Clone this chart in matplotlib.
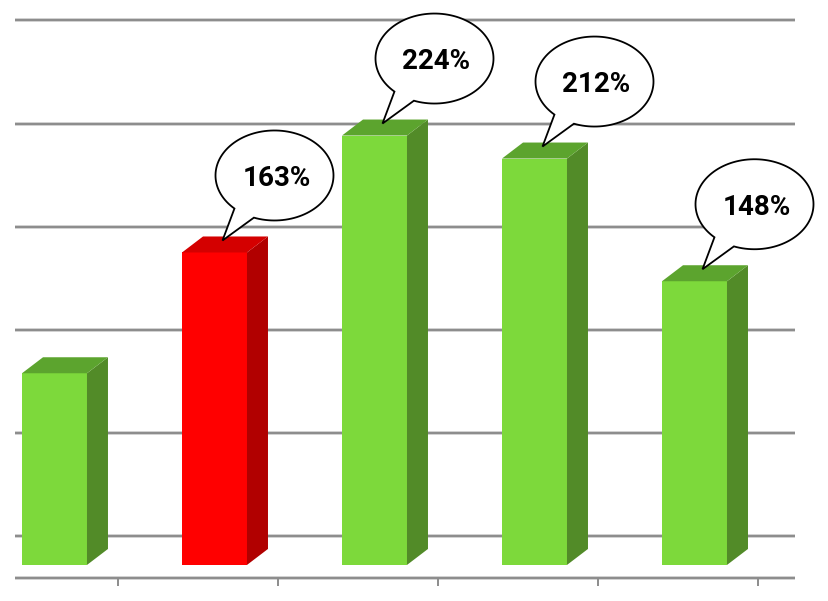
import numpy as np
import matplotlib
matplotlib.use("Agg")
import matplotlib.pyplot as plt
import matplotlib.transforms as mtransforms
from matplotlib.patches import Polygon

# data
values = [100, 163, 224, 212, 148]
labels = ["", "163%", "224%", "212%", "148%"]
highlight = [False, True, False, False, False]
grid_levels = [15.1, 68.9, 122.6, 176.3, 230.0, 284.3]

green = ("#7dd93b", "#528b28", "#5ca42e")   # front, side, top
red = ("#ff0000", "#b10000", "#d40000")

fig = plt.figure(figsize=(8.29, 6.01), dpi=100)
ax = fig.add_axes([0, 0, 1, 1])
ax.set_xlim(-0.3406, 4.8406)
ax.set_ylim(-18.8, 294.7)
ax.axis("off")

width = 0.406
dx = 21 / 160      # 3d depth, x
dy = 16 / 1.917    # 3d depth, y

# gridlines on the back wall
ax.hlines(grid_levels, -0.247, 4.628, color="#c8c8c8", lw=2.6, zorder=1)
ax.hlines(grid_levels, -0.247, 4.628, color="#8c8c8c", lw=1.4, zorder=1)

# bottom axis + ticks
ax.hlines(-6.8, -0.247, 4.628, color="#c8c8c8", lw=2.6, zorder=1)
ax.hlines(-6.8, -0.247, 4.628, color="#8c8c8c", lw=1.4, zorder=1)
xs = np.arange(len(values))
ax.vlines(xs + 0.397, -11.2, -6.8, color="#8c8c8c", lw=1.4, zorder=1)

for i, v in enumerate(values):
    front, side, top = red if highlight[i] else green
    left = i - width / 2
    right = i + width / 2
    ax.bar(i, v, width=width, color=front, zorder=3)
    ax.add_patch(Polygon([(right, 0), (right + dx, dy), (right + dx, v + dy), (right, v)],
                         closed=True, facecolor=side, edgecolor="none", zorder=3))
    ax.add_patch(Polygon([(left, v), (left + dx, v + dy), (right + dx, v + dy), (right, v)],
                         closed=True, facecolor=top, edgecolor="none", zorder=3))


def bubble_verts(cx=52, cy=65, a=59, b=45, base1=(-40, -33), base2=(-21, -43)):
    t1 = np.arctan2(base1[1] / b, base1[0] / a)
    t2 = np.arctan2(base2[1] / b, base2[0] / a)
    if t1 < t2:
        t1 += 2 * np.pi
    t = np.linspace(t2, t1, 120)
    pts = [(cx + a * np.cos(k), cy + b * np.sin(k)) for k in t]
    pts.append((0, 0))
    return pts


verts = bubble_verts()
for i, (v, lab) in enumerate(zip(values, labels)):
    if not lab:
        continue
    trans = mtransforms.ScaledTranslation(i + 0.05, v + 0.75 * dy, ax.transData)
    ax.add_patch(Polygon(verts, closed=True, facecolor="white", edgecolor="black",
                         lw=1.3, transform=trans, zorder=5))
    ax.text(54, 62, lab, transform=trans, ha="center", va="center", fontsize=20,
            fontweight="bold", family=["Roboto", "DejaVu Sans"], zorder=6)

fig.savefig("out.png", dpi=100, facecolor="white")
